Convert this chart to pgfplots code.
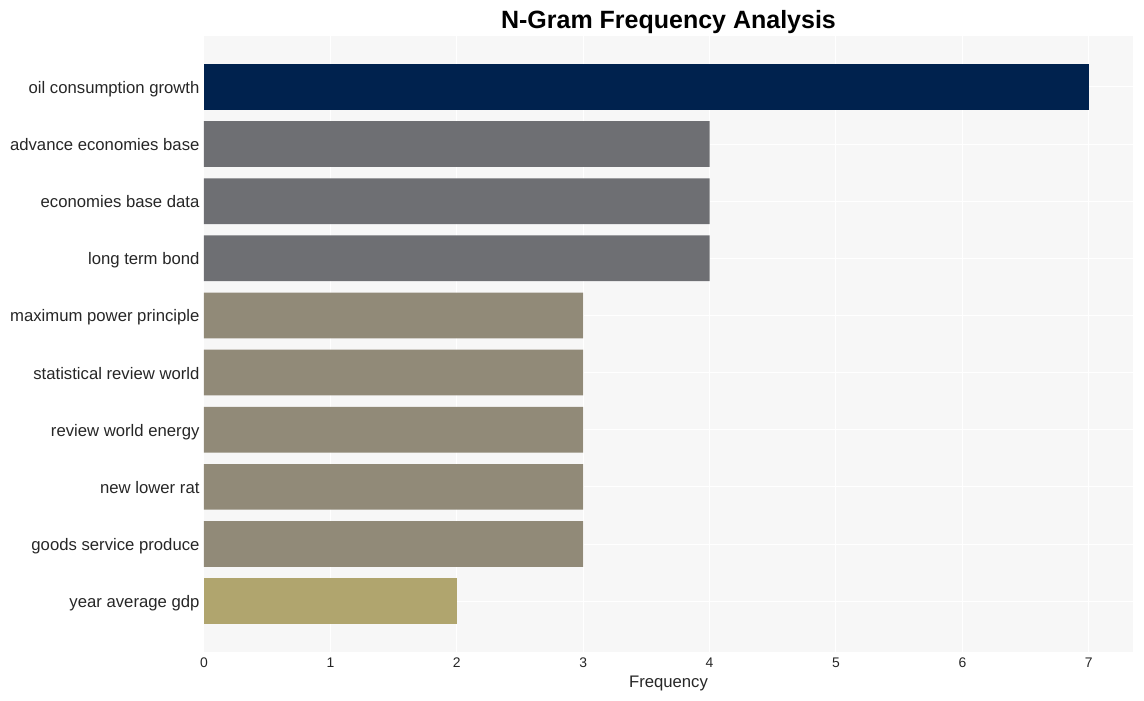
\documentclass[border=0pt]{standalone}
\usepackage{pgfplots}
\pgfplotsset{compat=1.18}
\usepackage{fontspec}
\setmainfont{Liberation Sans}
\definecolor{bgc}{HTML}{F7F7F7}
\definecolor{cnavy}{HTML}{00224E}
\definecolor{cgray}{HTML}{6E6F73}
\definecolor{ctaupe}{HTML}{918A78}
\definecolor{colive}{HTML}{B0A56E}
\definecolor{txt}{HTML}{262626}
\begin{document}
\begin{tikzpicture}[x=1pt,y=1pt]
\path[use as bounding box] (0,0) rectangle (1144,701);
\begin{axis}[
  at={(204pt,49pt)}, anchor=south west,
  scale only axis, width=929pt, height=616pt,
  xbar, bar width=0.8, bar shift=0pt,
  xmin=0, xmax=7.35, ymin=-0.89, ymax=9.89,
  y dir=reverse,
  ytick={0,1,2,3,4,5,6,7,8,9},
  yticklabels={oil consumption growth, advance economies base, economies base data, long term bond, maximum power principle, statistical review world, review world energy, new lower rat, goods service produce, year average gdp},
  xtick={0,1,2,3,4,5,6,7},
  /pgf/number format/assume math mode=true,
  axis line style={draw=none},
  major tick length=0pt,
  xmajorgrids, ymajorgrids,
  grid style={white, line width=1pt},
  axis background/.style={fill=bgc},
  yticklabel style={font=\fontsize{16.7}{20}\selectfont, text=txt, xshift=-1pt, yshift=-2.5pt, text height=11pt, text depth=3pt},
  xticklabel style={font=\fontsize{13.9}{16}\selectfont, text=txt, yshift=-2pt},
  xlabel={Frequency},
  xlabel style={font=\fontsize{16.7}{20}\selectfont, text=txt, at={(axis description cs:0.5,0)}, anchor=center, yshift=-31pt},
  title={N-Gram Frequency Analysis},
  title style={font=\fontsize{25}{30}\selectfont\bfseries, text=black, at={(axis description cs:0.5,1)}, anchor=center, yshift=8pt},
]
\addplot[draw=none, fill=cnavy] coordinates {(7,0)};
\addplot[draw=none, fill=cgray] coordinates {(4,1) (4,2) (4,3)};
\addplot[draw=none, fill=ctaupe] coordinates {(3,4) (3,5) (3,6) (3,7) (3,8)};
\addplot[draw=none, fill=colive] coordinates {(2,9)};
\end{axis}
\end{tikzpicture}
\end{document}
